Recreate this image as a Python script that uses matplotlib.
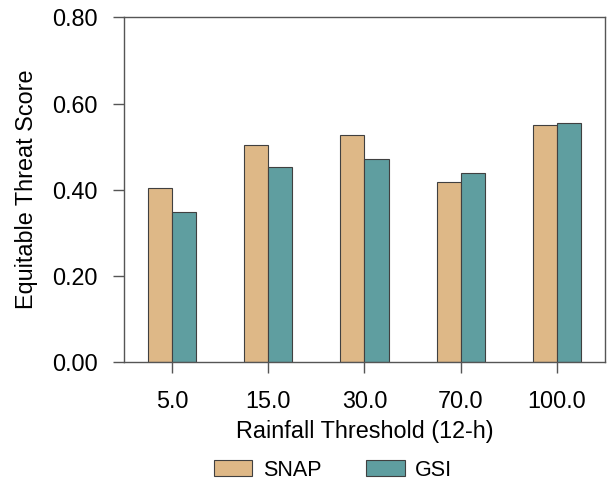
import numpy as np
import matplotlib
matplotlib.use('Agg')
import matplotlib.pyplot as plt

plt.rcParams['font.family'] = ['Liberation Sans', 'DejaVu Sans']

thresholds = ['5.0', '15.0', '30.0', '70.0', '100.0']
snap = [0.404, 0.505, 0.526, 0.418, 0.551]
gsi = [0.349, 0.452, 0.471, 0.439, 0.556]

c_snap = '#DEB887'
c_gsi = '#5F9EA0'
edge = '#404040'
fs = 16.8

fig = plt.figure(figsize=(6.09, 4.82), dpi=100)
ax = fig.add_axes([0.2036, 0.249, 0.7898, 0.7147])

x = np.arange(len(thresholds))
w = 0.25
ax.bar(x - w/2, snap, w, color=c_snap, edgecolor=edge, linewidth=0.8, label='SNAP')
ax.bar(x + w/2, gsi, w, color=c_gsi, edgecolor=edge, linewidth=0.8, label='GSI')

ax.set_xlim(-0.5, 4.5)
ax.set_ylim(0, 0.8)
ax.set_xticks(x)
ax.set_xticklabels(thresholds)
ax.set_yticks([0, 0.2, 0.4, 0.6, 0.8])
ax.set_yticklabels(['%.2f' % v for v in [0, 0.2, 0.4, 0.6, 0.8]])

for s in ax.spines.values():
    s.set_color('#555555')
    s.set_linewidth(1.0)
ax.tick_params(axis='both', colors='#555555', labelcolor='black',
               length=8, width=1.0, labelsize=fs)
ax.tick_params(axis='y', pad=11)
ax.tick_params(axis='x', pad=12)

ax.set_xlabel('Rainfall Threshold (12-h)', fontsize=fs, labelpad=5.5)
ax.set_ylabel('Equitable Threat Score', fontsize=fs, labelpad=10)

fig.legend(loc='center', bbox_to_anchor=(333/609, 1 - 470/482), ncol=2,
           frameon=False, fontsize=15.5, handlelength=1.8, handleheight=0.75,
           handletextpad=0.47, columnspacing=2.1)

fig.savefig('out.png', dpi=100)
